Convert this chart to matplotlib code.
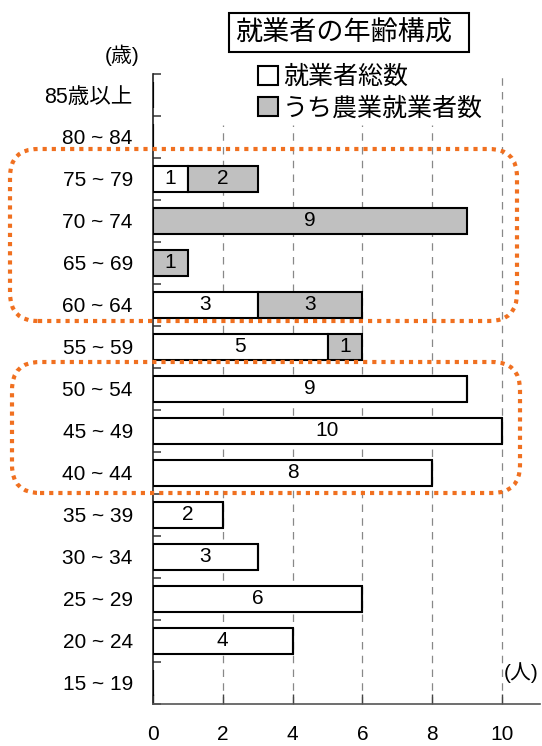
import matplotlib
matplotlib.use("Agg")
import matplotlib.pyplot as plt
from matplotlib.patches import Patch, FancyBboxPatch, Rectangle
from matplotlib.transforms import IdentityTransform
import numpy as np

plt.rcParams['font.family'] = ['Liberation Sans', 'Noto Sans CJK JP', 'DejaVu Sans']

# Data (bottom to top)
categories = ["15 ~ 19", "20 ~ 24", "25 ~ 29", "30 ~ 34", "35 ~ 39", "40 ~ 44", "45 ~ 49",
              "50 ~ 54", "55 ~ 59", "60 ~ 64", "65 ~ 69", "70 ~ 74", "75 ~ 79", "80 ~ 84", "85歳以上"]
non_farm = [0, 4, 6, 3, 2, 8, 10, 9, 5, 3, 0, 0, 1, 0, 0]
farm = [0, 0, 0, 0, 0, 0, 0, 0, 1, 3, 1, 9, 2, 0, 0]
xticks = [0, 2, 4, 6, 8, 10]
title = "就業者の年齢構成"
legend_labels = ["就業者総数", "うち農業就業者数"]

W, H = 542, 746
fig = plt.figure(figsize=(W / 100, H / 100), dpi=100)
ax_left, ax_right, ax_top, ax_bot = 153, 540, 74, 704
ax = fig.add_axes([ax_left / W, (H - ax_bot) / H, (ax_right - ax_left) / W, (ax_bot - ax_top) / H])

y = np.arange(len(categories))
bh = 0.64
ax.barh(y, non_farm, height=bh, color="white", edgecolor="black", linewidth=1.5, zorder=3)
ax.barh(y, farm, left=non_farm, height=bh, color="#C0C0C0", edgecolor="black", linewidth=1.5, zorder=3)

fs = 15
for i in range(len(categories)):
    if non_farm[i] > 0:
        ax.text(non_farm[i] / 2, y[i], str(non_farm[i]), ha="center", va="center", fontsize=fs, zorder=4)
    if farm[i] > 0:
        ax.text(non_farm[i] + farm[i] / 2, y[i], str(farm[i]), ha="center", va="center", fontsize=fs, zorder=4)

xmax = 10 * (ax_right - ax_left) / (502 - ax_left)
ax.set_xlim(0, xmax)
ax.set_ylim(-0.5, len(categories) - 0.5)

# gridlines
grid_top = (ax_bot - 125) / (ax_bot - ax_top)
for xv in xticks[1:]:
    ymax = 1.0 if xv == 10 else grid_top
    ax.axvline(xv, ymin=0, ymax=ymax, color="#888888", linestyle=(0, (6, 5)), linewidth=0.9, zorder=1)

ax.set_yticks(y)
ax.set_yticklabels(categories, fontsize=fs)
ax.set_yticks(np.arange(-0.5, len(categories), 1), minor=True)
ax.tick_params(axis="y", which="major", length=0, pad=14.5)
ax.tick_params(axis="y", which="minor", direction="in", length=6, width=1.2, color="#444444")
for lbl in ax.get_yticklabels():
    if "歳" in lbl.get_text():
        lbl.set_fontsize(15.5)

ax.set_xticks(xticks)
ax.set_xticklabels([str(v) for v in xticks], fontsize=fs)
ax.tick_params(axis="x", direction="in", length=7, width=1.0, color="#444444", pad=15)

for s in ["top", "right"]:
    ax.spines[s].set_visible(False)
ax.spines["left"].set_color("#222222")
ax.spines["left"].set_linewidth(1.2)
ax.spines["bottom"].set_color("#555555")
ax.spines["bottom"].set_linewidth(1.2)

# unit labels
fig.text(122 / W, 1 - 55 / H, "(歳)", ha="center", va="center", fontsize=15)
fig.text(521 / W, 1 - 673 / H, "(人)", ha="center", va="center", fontsize=15)

# title box
fig.patches.append(Rectangle((229 / W, 1 - 52 / H), (469 - 229) / W, (52 - 13) / H,
                             transform=fig.transFigure, facecolor="white", edgecolor="black",
                             linewidth=1.5, figure=fig))
fig.text(235 / W, 1 - 33 / H, title, ha="left", va="center", fontsize=19.5,
         family=['Noto Sans CJK JP'])

# legend
handles = [Patch(facecolor="white", edgecolor="black", linewidth=1.5),
           Patch(facecolor="#C0C0C0", edgecolor="black", linewidth=1.5)]
leg = fig.legend(handles, legend_labels, loc="upper left", bbox_to_anchor=(258 / W, 1 - 64 / H),
                 frameon=False, prop={"family": "Noto Sans CJK JP", "size": 18},
                 handlelength=0.8, handleheight=0.8, handletextpad=0.2, labelspacing=0.22,
                 borderpad=0, borderaxespad=0)

# orange dotted rounded highlights (pixel coords)
orange = "#F07020"
def rbox(x0, y0, x1, y1):
    p = FancyBboxPatch((x0, H - y1), x1 - x0, y1 - y0,
                       boxstyle="round,pad=0,rounding_size=28",
                       transform=IdentityTransform(), facecolor="none",
                       edgecolor=orange, linewidth=3, linestyle=(0, (1, 1.2)), zorder=10)
    fig.patches.append(p)

rbox(10, 149, 517, 321)
rbox(12, 362, 520, 493)

fig.savefig("out.png", dpi=100)
